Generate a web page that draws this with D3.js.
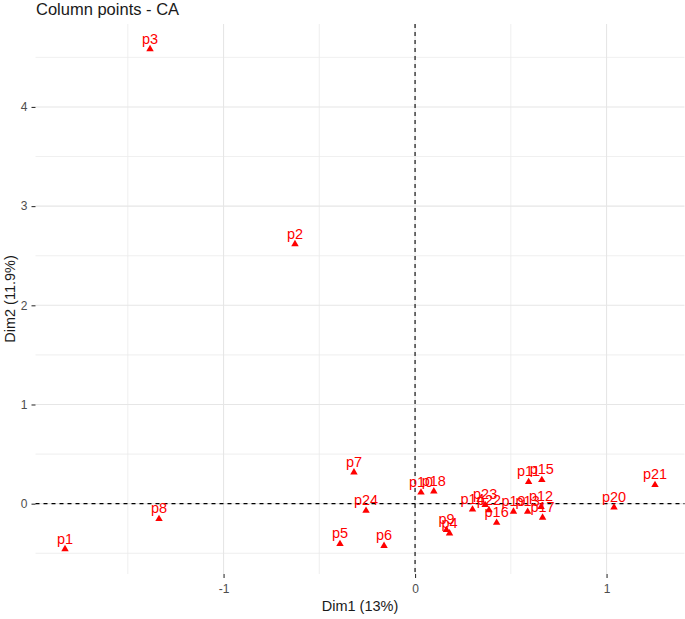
<!DOCTYPE html>
<html>
<head>
<meta charset="utf-8">
<script src="https://cdn.jsdelivr.net/npm/d3@7"></script>
<style>
  body { margin: 0; background: #ffffff; }
  svg { display: block; font-family: "Liberation Sans", Arial, sans-serif; }
</style>
</head>
<body>
<div id="chart"></div>
<script>
// Column points - CA : koordinat kolom pada Dim1 / Dim2
const pointLabels = ["p1","p2","p3","p4","p5","p6","p7","p8","p9","p10","p11","p12",
                     "p13","p14","p15","p16","p17","p18","p19","p20","p21","p22","p23","p24"];
const dim1 = [-1.828,-0.627,-1.384,0.180,-0.392,-0.162,-0.319,-1.337,0.164,0.031,0.593,0.658,
              0.588,0.300,0.662,0.426,0.666,0.098,0.514,1.039,1.253,0.386,0.366,-0.256];
const dim2 = [-0.457,2.618,4.584,-0.298,-0.406,-0.424,0.317,-0.154,-0.265,0.113,0.219,-0.033,
              -0.081,-0.058,0.239,-0.192,-0.141,0.125,-0.079,-0.036,0.189,-0.064,-0.013,-0.071];
const xTicks = [-1, 0, 1];
const yTicks = [0, 1, 2, 3, 4];
const xMinor = [-1.5, -0.5, 0.5, 1.5];
const yMinor = [-0.5, 0.5, 1.5, 2.5, 3.5, 4.5];

const points = pointLabels.map((name, i) => ({ name, x: dim1[i], y: dim2[i] }));

const width = 685, height = 619;
const margin = { top: 24, right: 0.5, bottom: 45, left: 35.5 };
const chartWidth = width - margin.left - margin.right;
const chartHeight = height - margin.top - margin.bottom;

// ekspansi 5% seperti ggplot
function expand(ext) {
    const pad = (ext[1] - ext[0]) * 0.05;
    return [ext[0] - pad, ext[1] + pad];
}

const x = d3.scaleLinear()
    .domain(expand(d3.extent(dim1)))
    .range([0, chartWidth]);
const y = d3.scaleLinear()
    .domain(expand(d3.extent(dim2)))
    .range([chartHeight, 0]);

const svgRoot = d3.select("#chart").append("svg")
    .attr("width", width)
    .attr("height", height);

const svg = svgRoot.append("g")
    .attr("transform", `translate(${margin.left},${margin.top})`);

const inX = v => v >= x.domain()[0] && v <= x.domain()[1];
const inY = v => v >= y.domain()[0] && v <= y.domain()[1];

// Grid minor
svg.append("g").selectAll("line")
    .data(xMinor.filter(inX))
    .enter().append("line")
    .attr("x1", d => x(d)).attr("x2", d => x(d))
    .attr("y1", 0).attr("y2", chartHeight)
    .attr("stroke", "#EBEBEB").attr("stroke-width", 0.8);
svg.append("g").selectAll("line")
    .data(yMinor.filter(inY))
    .enter().append("line")
    .attr("y1", d => y(d)).attr("y2", d => y(d))
    .attr("x1", 0).attr("x2", chartWidth)
    .attr("stroke", "#EBEBEB").attr("stroke-width", 0.8);

// Grid major
svg.append("g").selectAll("line")
    .data(xTicks)
    .enter().append("line")
    .attr("x1", d => x(d)).attr("x2", d => x(d))
    .attr("y1", 0).attr("y2", chartHeight)
    .attr("stroke", "#E6E6E6").attr("stroke-width", 1.1);
svg.append("g").selectAll("line")
    .data(yTicks)
    .enter().append("line")
    .attr("y1", d => y(d)).attr("y2", d => y(d))
    .attr("x1", 0).attr("x2", chartWidth)
    .attr("stroke", "#E6E6E6").attr("stroke-width", 1.1);

// Axes (hanya tick + label), pakai tanda minus biasa seperti R
const fmt = d => String(d);
const xAxis = svg.append("g")
    .attr("transform", `translate(0,${chartHeight})`)
    .call(d3.axisBottom(x).tickValues(xTicks).tickSize(4).tickPadding(6).tickFormat(fmt));
const yAxis = svg.append("g")
    .call(d3.axisLeft(y).tickValues(yTicks).tickSize(4).tickPadding(4).tickFormat(fmt));
[xAxis, yAxis].forEach(ax => {
    ax.select(".domain").remove();
    ax.selectAll(".tick line").attr("stroke", "#333333").attr("stroke-width", 1.1);
    ax.selectAll(".tick text")
        .attr("fill", "#4D4D4D")
        .style("font-family", "\"Liberation Sans\", Arial, sans-serif")
        .style("font-size", "12px");
});

// Garis putus-putus di 0
svg.append("line")
    .attr("x1", 0).attr("x2", chartWidth)
    .attr("y1", y(0)).attr("y2", y(0))
    .attr("stroke", "#000000").attr("stroke-width", 1.1)
    .attr("stroke-dasharray", "4,4");
svg.append("line")
    .attr("x1", x(0)).attr("x2", x(0))
    .attr("y1", 0).attr("y2", chartHeight)
    .attr("stroke", "#000000").attr("stroke-width", 1.1)
    .attr("stroke-dasharray", "4,4");

// Titik segitiga
svg.append("g").selectAll("path")
    .data(points)
    .enter().append("path")
    .attr("transform", d => `translate(${x(d.x)},${y(d.y)})`)
    .attr("d", d3.symbol().type(d3.symbolTriangle).size(24))
    .attr("fill", "#FF0000");

// Label titik
svg.append("g").selectAll("text")
    .data(points)
    .enter().append("text")
    .attr("x", d => x(d.x))
    .attr("y", d => y(d.y) - 5.5)
    .attr("text-anchor", "middle")
    .attr("fill", "#FF0000")
    .style("font-size", "14.5px")
    .text(d => d.name);

// Judul dan label sumbu
svgRoot.append("text")
    .attr("x", 36)
    .attr("y", 15)
    .attr("fill", "#1A1A1A")
    .style("font-size", "16.5px")
    .text("Column points - CA");

svgRoot.append("text")
    .attr("x", margin.left + chartWidth / 2)
    .attr("y", 611)
    .attr("text-anchor", "middle")
    .attr("fill", "#1A1A1A")
    .style("font-size", "14.5px")
    .text("Dim1 (13%)");

svgRoot.append("text")
    .attr("transform", `translate(15,${margin.top + chartHeight / 2}) rotate(-90)`)
    .attr("text-anchor", "middle")
    .attr("fill", "#1A1A1A")
    .style("font-size", "14.5px")
    .text("Dim2 (11.9%)");
</script>
</body>
</html>
